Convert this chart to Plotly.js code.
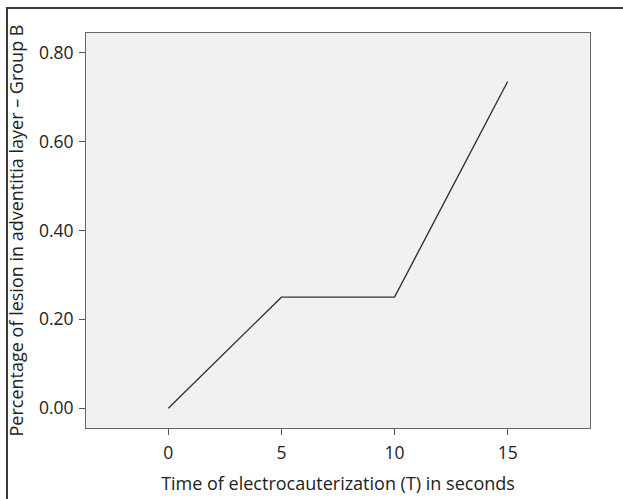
<!DOCTYPE html>
<html>
<head>
<meta charset="utf-8">
<script src="https://cdn.plot.ly/plotly-3.0.1.min.js"></script>
<style>
  html, body { margin: 0; padding: 0; background: #fff; }
  #wrap { position: relative; width: 623px; height: 499px; overflow: hidden; }
  #chart { position: absolute; left: 0; top: 0; width: 623px; height: 499px; }
  #frame { position: absolute; left: 6px; top: 7px; right: -10px; bottom: -10px;
           border-top: 2px solid #3a3a3a; border-left: 2px solid #3a3a3a; pointer-events: none; }
</style>
</head>
<body>
<div id="wrap">
  <div id="chart"></div>
  <div id="frame"></div>
</div>
<script>
const timeSeconds = [0, 5, 10, 15];
const lesionPct = [0.00, 0.25, 0.25, 0.735];
const yTickVals = [0.0, 0.2, 0.4, 0.6, 0.8];
const yTickText = ['0.00', '0.20', '0.40', '0.60', '0.80'];
const xTickVals = [0, 5, 10, 15];
const xTitle = 'Time of electrocauterization (T) in seconds';
const yTitle = 'Percentage of lesion in adventitia layer \u2013 Group B';

const fontFam = '"Open Sans", "Noto Sans", sans-serif';

const trace = {
  x: timeSeconds,
  y: lesionPct,
  type: 'scatter',
  mode: 'lines',
  line: { color: '#333333', width: 1.4 },
  hoverinfo: 'skip'
};

const layout = {
  width: 623,
  height: 499,
  margin: { l: 86, r: 33, t: 33, b: 71 },
  paper_bgcolor: '#ffffff',
  plot_bgcolor: '#f0f1f0',
  showlegend: false,
  font: { family: fontFam, size: 18, color: '#222' },
  xaxis: {
    range: [-3.64, 18.64],
    tickvals: xTickVals,
    ticktext: xTickVals.map(String),
    ticks: 'outside',
    ticklen: 6,
    tickwidth: 1,
    tickcolor: '#555',
    ticklabelstandoff: 3,
    showgrid: false,
    zeroline: false,
    showline: true,
    mirror: true,
    linecolor: '#666',
    linewidth: 1,
    tickfont: { family: fontFam, size: 17.5, color: '#222' },
    title: { text: xTitle, font: { family: fontFam, size: 18, color: '#222' }, standoff: 14 }
  },
  yaxis: {
    range: [-0.0443, 0.844],
    tickvals: yTickVals,
    ticktext: yTickText,
    ticks: 'outside',
    ticklen: 6,
    tickwidth: 1,
    tickcolor: '#555',
    ticklabelstandoff: 2,
    showgrid: false,
    zeroline: false,
    showline: true,
    mirror: true,
    linecolor: '#666',
    linewidth: 1,
    tickfont: { family: fontFam, size: 17.5, color: '#222' },
    title: { text: yTitle, font: { family: fontFam, size: 18, color: '#222' }, standoff: 10 }
  }
};

Plotly.newPlot('chart', [trace], layout, { displayModeBar: false, staticPlot: true });
</script>
</body>
</html>
